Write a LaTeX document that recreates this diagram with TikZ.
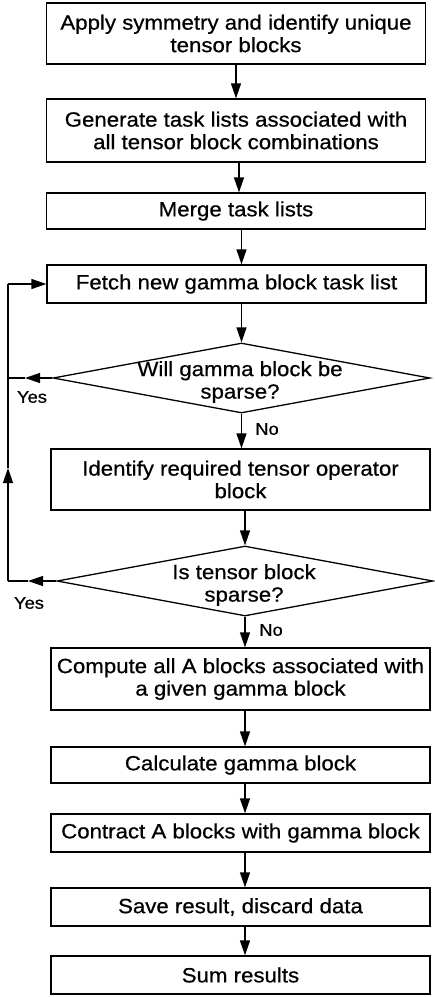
\documentclass[tikz,border=0pt]{standalone}
\usepackage{fontspec}
\setmainfont[FakeStretch=1.08,FakeBold=0.6]{Liberation Sans}
\usetikzlibrary{shapes.geometric,arrows.meta}
\begin{document}
\begin{tikzpicture}[x=1pt,y=1pt,
  font=\fontsize{20.6}{22.5}\selectfont,
  box/.style={draw,line width=1.3pt,rectangle,minimum width=379pt,inner sep=0pt,align=center},
  dia/.style={draw,line width=1.3pt,diamond,inner sep=0pt},
  dtext/.style={align=center,inner sep=0pt},
  arr/.style={line width=1.3pt,-{Triangle[length=15pt,width=10pt]}},
  ln/.style={line width=1.3pt},
  lab/.style={font=\fontsize{17}{19}\selectfont,inner sep=0pt}]
\useasboundingbox (0,0) rectangle (435,-997);
\node[box,minimum height=61pt] (b1) at (236,-33.5) {Apply symmetry and identify unique\\tensor blocks};
\node[box,minimum height=63pt] (b2) at (236,-130.5) {Generate task lists associated with\\all tensor block combinations};
\node[box,minimum height=36pt] (b3) at (236,-211) {Merge task lists};
\node[box,minimum height=38pt] (b4) at (236.5,-284) {Fetch new gamma block task list};
\node[dia,minimum width=377pt,minimum height=70pt] (d1) at (241.5,-378) {};
\node[dtext] (d1t) at (240,-382) {Will gamma block be\\sparse?};
\node[box,minimum height=61pt] (b5) at (240.5,-479.5) {Identify required tensor operator\\block};
\node[dia,minimum width=376pt,minimum height=70pt] (d2) at (245,-581) {};
\node[dtext] (d2t) at (244,-585) {Is tensor block\\sparse?};
\node[box,minimum height=62pt] (b6) at (240.5,-679) {Compute all A blocks associated with\\a given gamma block};
\node[box,minimum height=36pt] (b7) at (240.5,-765) {Calculate gamma block};
\node[box,minimum height=38pt] (b8) at (240.5,-833) {Contract A blocks with gamma block};
\node[box,minimum height=38pt] (b9) at (240.5,-907) {Save result, discard data};
\node[box,minimum height=38pt] (b10) at (240.5,-975) {Sum results};
% labels
\node[lab] (y1) at (32,-397) {Yes};
\node[lab] (n1) at (267,-429) {No};
\node[lab] (y2) at (29,-603) {Yes};
\node[lab] (n2) at (271,-630) {No};
% main flow
\draw[arr] (b1.south) -- (b1.south |- b2.north);
\draw[arr] (b2.south) ++(3,0) coordinate (s2) -- (s2 |- b3.north);
\draw[arr] (d1.north |- b3.south) -- (d1.north |- b4.north);
\draw[arr] (d1.north |- b4.south) -- (d1.north);
\draw[arr] (d1.south) -- (d1.south |- b5.north);
\draw[arr] (d2.north |- b5.south) -- (d2.north);
\draw[arr] (d2.south) -- (d2.south |- b6.north);
\draw[arr] (d2.south |- b6.south) -- (d2.south |- b7.north);
\draw[arr] (d2.south |- b7.south) -- (d2.south |- b8.north);
\draw[arr] (d2.south |- b8.south) -- (d2.south |- b9.north);
\draw[arr] (d2.south |- b9.south) -- (d2.south |- b10.north);
% loop back
\coordinate (a1) at (25,-378);
\coordinate (l1) at (8,-378);
\coordinate (a2) at (28,-581);
\coordinate (l2) at (8,-581);
\coordinate (m1) at (8,-468);
\coordinate (t1) at (8,-284);
\draw[arr] (d1.west) -- (a1);
\draw[ln] (a1) -- (l1);
\draw[arr] (d2.west) -- (a2);
\draw[ln] (a2) -- (l2);
\draw[arr] (l2) -- (m1);
\draw[ln] (m1) -- (t1);
\draw[arr] (t1) -- (b4.west);
\end{tikzpicture}
\end{document}
